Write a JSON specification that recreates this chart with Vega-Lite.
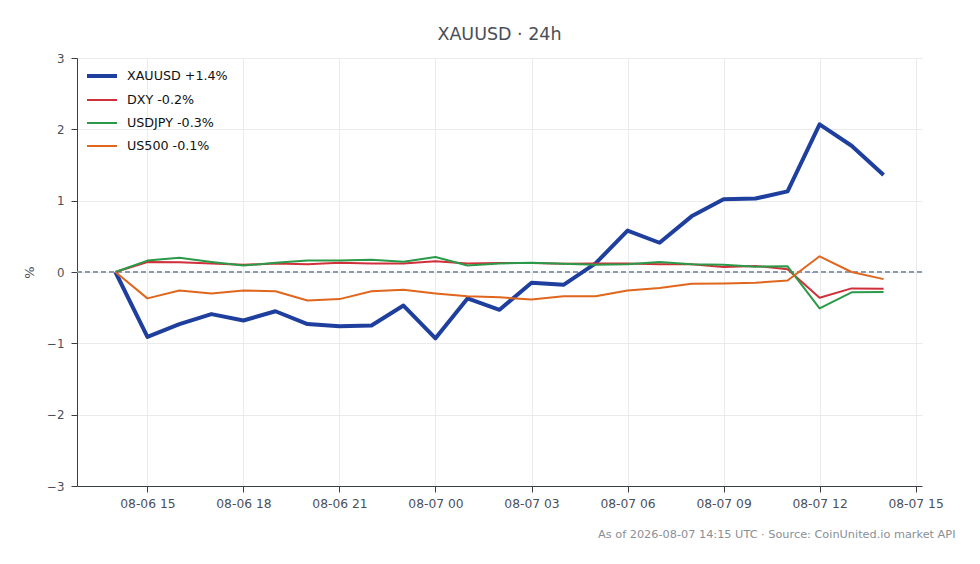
{
  "$schema": "https://vega.github.io/schema/vega-lite/v6.json",
  "width": 845,
  "height": 428,
  "autosize": {"type": "none"},
  "padding": {"left": 77, "top": 58, "right": 58, "bottom": 78},
  "background": "white",
  "title": {"text": "XAUUSD · 24h", "font": "DejaVu Sans", "fontSize": 17.5, "fontWeight": "normal", "color": "#4a4f57", "anchor": "middle", "offset": 10},
  "config": {
    "view": {"stroke": null},
    "font": "DejaVu Sans",
    "axis": {"labelFont": "DejaVu Sans", "labelFontSize": 11.5, "labelColor": "#4a4f57", "domainColor": "#3a3f47", "tickColor": "#3a3f47", "gridColor": "#ebebeb", "tickSize": 6, "labelPadding": 6, "titleFont": "DejaVu Sans", "titleFontWeight": "normal"},
    "legend": {"labelFont": "DejaVu Sans", "labelFontSize": 12.7, "labelColor": "#111111"}
  },
  "data": {"values": [
      {"t": "2026-08-06T14:00:00Z", "s": "XAUUSD +1.4%", "v": 0},
      {"t": "2026-08-06T15:00:00Z", "s": "XAUUSD +1.4%", "v": -0.91},
      {"t": "2026-08-06T16:00:00Z", "s": "XAUUSD +1.4%", "v": -0.73},
      {"t": "2026-08-06T17:00:00Z", "s": "XAUUSD +1.4%", "v": -0.59},
      {"t": "2026-08-06T18:00:00Z", "s": "XAUUSD +1.4%", "v": -0.68},
      {"t": "2026-08-06T19:00:00Z", "s": "XAUUSD +1.4%", "v": -0.55},
      {"t": "2026-08-06T20:00:00Z", "s": "XAUUSD +1.4%", "v": -0.73},
      {"t": "2026-08-06T21:00:00Z", "s": "XAUUSD +1.4%", "v": -0.76},
      {"t": "2026-08-06T22:00:00Z", "s": "XAUUSD +1.4%", "v": -0.75},
      {"t": "2026-08-06T23:00:00Z", "s": "XAUUSD +1.4%", "v": -0.47},
      {"t": "2026-08-07T00:00:00Z", "s": "XAUUSD +1.4%", "v": -0.93},
      {"t": "2026-08-07T01:00:00Z", "s": "XAUUSD +1.4%", "v": -0.37},
      {"t": "2026-08-07T02:00:00Z", "s": "XAUUSD +1.4%", "v": -0.53},
      {"t": "2026-08-07T03:00:00Z", "s": "XAUUSD +1.4%", "v": -0.15},
      {"t": "2026-08-07T04:00:00Z", "s": "XAUUSD +1.4%", "v": -0.18},
      {"t": "2026-08-07T05:00:00Z", "s": "XAUUSD +1.4%", "v": 0.12},
      {"t": "2026-08-07T06:00:00Z", "s": "XAUUSD +1.4%", "v": 0.58},
      {"t": "2026-08-07T07:00:00Z", "s": "XAUUSD +1.4%", "v": 0.41},
      {"t": "2026-08-07T08:00:00Z", "s": "XAUUSD +1.4%", "v": 0.78},
      {"t": "2026-08-07T09:00:00Z", "s": "XAUUSD +1.4%", "v": 1.02},
      {"t": "2026-08-07T10:00:00Z", "s": "XAUUSD +1.4%", "v": 1.03},
      {"t": "2026-08-07T11:00:00Z", "s": "XAUUSD +1.4%", "v": 1.13},
      {"t": "2026-08-07T12:00:00Z", "s": "XAUUSD +1.4%", "v": 2.07},
      {"t": "2026-08-07T13:00:00Z", "s": "XAUUSD +1.4%", "v": 1.77},
      {"t": "2026-08-07T14:00:00Z", "s": "XAUUSD +1.4%", "v": 1.36},
      {"t": "2026-08-06T14:00:00Z", "s": "DXY -0.2%", "v": 0},
      {"t": "2026-08-06T15:00:00Z", "s": "DXY -0.2%", "v": 0.14},
      {"t": "2026-08-06T16:00:00Z", "s": "DXY -0.2%", "v": 0.135},
      {"t": "2026-08-06T17:00:00Z", "s": "DXY -0.2%", "v": 0.12},
      {"t": "2026-08-06T18:00:00Z", "s": "DXY -0.2%", "v": 0.1},
      {"t": "2026-08-06T19:00:00Z", "s": "DXY -0.2%", "v": 0.12},
      {"t": "2026-08-06T20:00:00Z", "s": "DXY -0.2%", "v": 0.11},
      {"t": "2026-08-06T21:00:00Z", "s": "DXY -0.2%", "v": 0.13},
      {"t": "2026-08-06T22:00:00Z", "s": "DXY -0.2%", "v": 0.12},
      {"t": "2026-08-06T23:00:00Z", "s": "DXY -0.2%", "v": 0.12},
      {"t": "2026-08-07T00:00:00Z", "s": "DXY -0.2%", "v": 0.15},
      {"t": "2026-08-07T01:00:00Z", "s": "DXY -0.2%", "v": 0.12},
      {"t": "2026-08-07T02:00:00Z", "s": "DXY -0.2%", "v": 0.125},
      {"t": "2026-08-07T03:00:00Z", "s": "DXY -0.2%", "v": 0.125},
      {"t": "2026-08-07T04:00:00Z", "s": "DXY -0.2%", "v": 0.115},
      {"t": "2026-08-07T05:00:00Z", "s": "DXY -0.2%", "v": 0.12},
      {"t": "2026-08-07T06:00:00Z", "s": "DXY -0.2%", "v": 0.12},
      {"t": "2026-08-07T07:00:00Z", "s": "DXY -0.2%", "v": 0.11},
      {"t": "2026-08-07T08:00:00Z", "s": "DXY -0.2%", "v": 0.11},
      {"t": "2026-08-07T09:00:00Z", "s": "DXY -0.2%", "v": 0.07},
      {"t": "2026-08-07T10:00:00Z", "s": "DXY -0.2%", "v": 0.085},
      {"t": "2026-08-07T11:00:00Z", "s": "DXY -0.2%", "v": 0.04},
      {"t": "2026-08-07T12:00:00Z", "s": "DXY -0.2%", "v": -0.36},
      {"t": "2026-08-07T13:00:00Z", "s": "DXY -0.2%", "v": -0.23},
      {"t": "2026-08-07T14:00:00Z", "s": "DXY -0.2%", "v": -0.235},
      {"t": "2026-08-06T14:00:00Z", "s": "USDJPY -0.3%", "v": 0},
      {"t": "2026-08-06T15:00:00Z", "s": "USDJPY -0.3%", "v": 0.16},
      {"t": "2026-08-06T16:00:00Z", "s": "USDJPY -0.3%", "v": 0.2},
      {"t": "2026-08-06T17:00:00Z", "s": "USDJPY -0.3%", "v": 0.14},
      {"t": "2026-08-06T18:00:00Z", "s": "USDJPY -0.3%", "v": 0.09},
      {"t": "2026-08-06T19:00:00Z", "s": "USDJPY -0.3%", "v": 0.13},
      {"t": "2026-08-06T20:00:00Z", "s": "USDJPY -0.3%", "v": 0.16},
      {"t": "2026-08-06T21:00:00Z", "s": "USDJPY -0.3%", "v": 0.16},
      {"t": "2026-08-06T22:00:00Z", "s": "USDJPY -0.3%", "v": 0.17},
      {"t": "2026-08-06T23:00:00Z", "s": "USDJPY -0.3%", "v": 0.145},
      {"t": "2026-08-07T00:00:00Z", "s": "USDJPY -0.3%", "v": 0.21},
      {"t": "2026-08-07T01:00:00Z", "s": "USDJPY -0.3%", "v": 0.09},
      {"t": "2026-08-07T02:00:00Z", "s": "USDJPY -0.3%", "v": 0.12},
      {"t": "2026-08-07T03:00:00Z", "s": "USDJPY -0.3%", "v": 0.13},
      {"t": "2026-08-07T04:00:00Z", "s": "USDJPY -0.3%", "v": 0.115},
      {"t": "2026-08-07T05:00:00Z", "s": "USDJPY -0.3%", "v": 0.1},
      {"t": "2026-08-07T06:00:00Z", "s": "USDJPY -0.3%", "v": 0.11},
      {"t": "2026-08-07T07:00:00Z", "s": "USDJPY -0.3%", "v": 0.14},
      {"t": "2026-08-07T08:00:00Z", "s": "USDJPY -0.3%", "v": 0.11},
      {"t": "2026-08-07T09:00:00Z", "s": "USDJPY -0.3%", "v": 0.1},
      {"t": "2026-08-07T10:00:00Z", "s": "USDJPY -0.3%", "v": 0.075},
      {"t": "2026-08-07T11:00:00Z", "s": "USDJPY -0.3%", "v": 0.08},
      {"t": "2026-08-07T12:00:00Z", "s": "USDJPY -0.3%", "v": -0.51},
      {"t": "2026-08-07T13:00:00Z", "s": "USDJPY -0.3%", "v": -0.285},
      {"t": "2026-08-07T14:00:00Z", "s": "USDJPY -0.3%", "v": -0.28},
      {"t": "2026-08-06T14:00:00Z", "s": "US500 -0.1%", "v": 0},
      {"t": "2026-08-06T15:00:00Z", "s": "US500 -0.1%", "v": -0.37},
      {"t": "2026-08-06T16:00:00Z", "s": "US500 -0.1%", "v": -0.26},
      {"t": "2026-08-06T17:00:00Z", "s": "US500 -0.1%", "v": -0.3},
      {"t": "2026-08-06T18:00:00Z", "s": "US500 -0.1%", "v": -0.26},
      {"t": "2026-08-06T19:00:00Z", "s": "US500 -0.1%", "v": -0.27},
      {"t": "2026-08-06T20:00:00Z", "s": "US500 -0.1%", "v": -0.4},
      {"t": "2026-08-06T21:00:00Z", "s": "US500 -0.1%", "v": -0.38},
      {"t": "2026-08-06T22:00:00Z", "s": "US500 -0.1%", "v": -0.27},
      {"t": "2026-08-06T23:00:00Z", "s": "US500 -0.1%", "v": -0.25},
      {"t": "2026-08-07T00:00:00Z", "s": "US500 -0.1%", "v": -0.3},
      {"t": "2026-08-07T01:00:00Z", "s": "US500 -0.1%", "v": -0.34},
      {"t": "2026-08-07T02:00:00Z", "s": "US500 -0.1%", "v": -0.355},
      {"t": "2026-08-07T03:00:00Z", "s": "US500 -0.1%", "v": -0.385},
      {"t": "2026-08-07T04:00:00Z", "s": "US500 -0.1%", "v": -0.34},
      {"t": "2026-08-07T05:00:00Z", "s": "US500 -0.1%", "v": -0.34},
      {"t": "2026-08-07T06:00:00Z", "s": "US500 -0.1%", "v": -0.26},
      {"t": "2026-08-07T07:00:00Z", "s": "US500 -0.1%", "v": -0.225},
      {"t": "2026-08-07T08:00:00Z", "s": "US500 -0.1%", "v": -0.165},
      {"t": "2026-08-07T09:00:00Z", "s": "US500 -0.1%", "v": -0.16},
      {"t": "2026-08-07T10:00:00Z", "s": "US500 -0.1%", "v": -0.15},
      {"t": "2026-08-07T11:00:00Z", "s": "US500 -0.1%", "v": -0.12},
      {"t": "2026-08-07T12:00:00Z", "s": "US500 -0.1%", "v": 0.22},
      {"t": "2026-08-07T13:00:00Z", "s": "US500 -0.1%", "v": 0.0},
      {"t": "2026-08-07T14:00:00Z", "s": "US500 -0.1%", "v": -0.1}
  ]},
  "layer": [
    {
      "mark": {"type": "rule", "color": "#8c9bb0", "strokeWidth": 1, "strokeDash": [5, 3]},
      "encoding": {"y": {"datum": 0, "type": "quantitative"}}
    },
    {
      "mark": {"type": "line", "strokeJoin": "round"},
      "encoding": {
        "x": {
          "field": "t", "type": "temporal",
          "scale": {"type": "utc", "domain": [1786020480000, 1786115520000]},
          "axis": {
            "format": "%m-%d %H",
            "values": [1786028400000, 1786039200000, 1786050000000, 1786060800000, 1786071600000, 1786082400000, 1786093200000, 1786104000000, 1786114800000],
            "grid": true,
            "labelFontSize": 12.3,
            "labelPadding": 5,
            "title": "As of 2026-08-07 14:15 UTC · Source: CoinUnited.io market API",
            "titleFontSize": 11.3,
            "titleColor": "#8a8f96",
            "titleAnchor": "end",
            "titleAlign": "right",
            "titleBaseline": "middle",
            "titleX": 878,
            "titleY": 48
          }
        },
        "y": {
          "field": "v", "type": "quantitative",
          "scale": {"domain": [-3, 3], "nice": false},
          "axis": {"values": [-3, -2, -1, 0, 1, 2, 3], "format": "d", "grid": true, "title": "%", "titleFontSize": 13, "titleColor": "#4a4f57", "titlePadding": 10, "labelFontSize": 11.8, "labelPadding": 7}
        },
        "color": {
          "field": "s", "type": "nominal",
          "scale": {"domain": ["XAUUSD +1.4%", "DXY -0.2%", "USDJPY -0.3%", "US500 -0.1%"], "range": ["#1f3f9e", "#d0303a", "#2b9a48", "#e0661e"]},
          "legend": {"title": null, "orient": "none", "legendX": 8, "legendY": 1, "symbolType": "stroke", "symbolSize": 900, "labelOffset": 8, "rowPadding": -6.5}
        },
        "strokeWidth": {
          "field": "s", "type": "nominal",
          "scale": {"type": "ordinal", "domain": ["XAUUSD +1.4%", "DXY -0.2%", "USDJPY -0.3%", "US500 -0.1%"], "range": [4, 2, 2, 2]},
          "legend": {"title": null, "orient": "none", "legendX": 8, "legendY": 1, "symbolType": "stroke", "symbolSize": 900, "labelOffset": 8, "rowPadding": -6.5}
        }
      }
    }
  ]
}
